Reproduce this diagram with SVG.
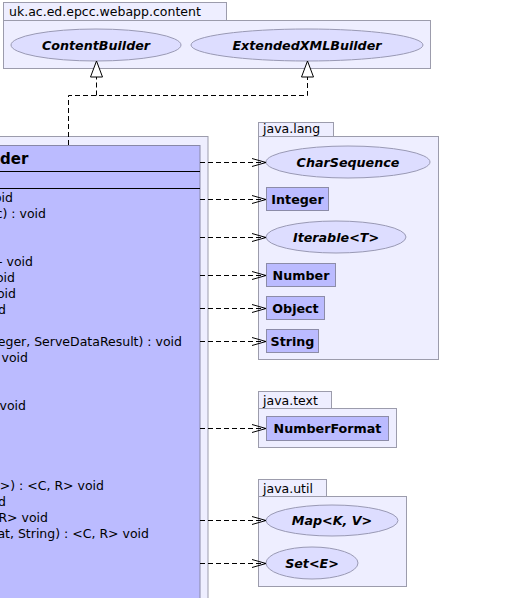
<svg xmlns="http://www.w3.org/2000/svg" width="511" height="598" viewBox="0 0 511 598">
<defs>
<style>
.pkg{fill:#eeeeff;stroke:#9c9cac;stroke-width:1}
.cls{fill:#bbbbff;stroke:#8888a8;stroke-width:1}
.box{fill:#bbbbff;stroke:#8c8ca8;stroke-width:1}
.ell{fill:#ddddff;stroke:#9999b4;stroke-width:1}
.lbl{font-family:"DejaVu Sans",sans-serif;font-size:12.5px;fill:#000}
.b{font-family:"DejaVu Sans",sans-serif;font-size:12.7px;font-weight:bold;fill:#000}
.bi{font-family:"DejaVu Sans",sans-serif;font-size:12.7px;font-weight:bold;font-style:italic;fill:#000}
.m{font-family:"DejaVu Sans",sans-serif;font-size:12.5px;fill:#000;text-anchor:end}
.dep{fill:none;stroke:#000;stroke-width:1;stroke-dasharray:5,3}
.line{fill:none;stroke:#000;stroke-width:1}
</style>
<marker id="open" markerWidth="16" markerHeight="10" refX="15" refY="5" orient="auto" markerUnits="userSpaceOnUse">
<path d="M1,1 L15,5 L1,9" fill="none" stroke="#000" stroke-width="1"/>
</marker>
</defs>
<rect width="511" height="598" fill="#ffffff"/>

<g id="pkg-content">
<rect class="pkg" x="3.5" y="2.5" width="223" height="18"/>
<rect class="pkg" x="3.5" y="20.5" width="427" height="48"/>
<text class="lbl" x="9" y="16">uk.ac.ed.epcc.webapp.content</text>
</g>
<g id="ContentBuilder">
<ellipse class="ell" cx="96" cy="45" rx="85" ry="16"/>
<text class="bi" x="96" y="49.5" text-anchor="middle">ContentBuilder</text>
</g>
<g id="ExtendedXMLBuilder">
<ellipse class="ell" cx="307" cy="45" rx="116" ry="16"/>
<text class="bi" x="307" y="49.5" text-anchor="middle">ExtendedXMLBuilder</text>
</g>

<g id="pkg-class">
<rect class="pkg" x="-10" y="136.5" width="218" height="480"/>
</g>
<g id="Builder">
<rect class="cls" x="-10" y="145.5" width="210" height="470"/>
<line class="line" x1="-10" y1="171.5" x2="200" y2="171.5"/>
<line class="line" x1="-10" y1="188.5" x2="200" y2="188.5"/>
<text x="0" y="164" style="font-family:'DejaVu Sans',sans-serif;font-size:15px;font-weight:bold">der</text>
<text class="m" x="13" y="202">oid</text>
<text class="m" x="46" y="218">c) : void</text>
<text class="m" x="33" y="266">- void</text>
<text class="m" x="15" y="282">oid</text>
<text class="m" x="16" y="298">oid</text>
<text class="m" x="6" y="314">d</text>
<text class="m" x="182" y="346">eger, ServeDataResult) : void</text>
<text class="m" x="28" y="362">void</text>
<text class="m" x="26" y="410">void</text>
<text class="m" x="104" y="490">R&gt;) : &lt;C, R&gt; void</text>
<text class="m" x="6" y="506">d</text>
<text class="m" x="48" y="522">R&gt; void</text>
<text class="m" x="149" y="538">at, String) : &lt;C, R&gt; void</text>
</g>

<g id="pkg-java-lang">
<rect class="pkg" x="258.5" y="122.5" width="75" height="14"/>
<rect class="pkg" x="258.5" y="136.5" width="180" height="223"/>
<text class="lbl" x="263" y="132.5">java.lang</text>
</g>
<g id="CharSequence">
<ellipse class="ell" cx="348" cy="162" rx="82" ry="16"/>
<text class="bi" x="348" y="166.5" text-anchor="middle">CharSequence</text>
</g>
<g id="Integer">
<rect class="box" x="266.5" y="187.5" width="62" height="23"/>
<text class="b" x="297.5" y="203.5" text-anchor="middle">Integer</text>
</g>
<g id="Iterable">
<ellipse class="ell" cx="336" cy="237" rx="70" ry="16"/>
<text class="bi" x="336" y="241.5" text-anchor="middle">Iterable&lt;T&gt;</text>
</g>
<g id="Number">
<rect class="box" x="266.5" y="263.5" width="69" height="23"/>
<text class="b" x="301" y="279.5" text-anchor="middle">Number</text>
</g>
<g id="Object">
<rect class="box" x="266.5" y="296.5" width="58" height="23"/>
<text class="b" x="295.5" y="312.5" text-anchor="middle">Object</text>
</g>
<g id="String">
<rect class="box" x="266.5" y="329.5" width="52" height="23"/>
<text class="b" x="292.5" y="345.5" text-anchor="middle">String</text>
</g>

<g id="pkg-java-text">
<rect class="pkg" x="258.5" y="391.5" width="73" height="17"/>
<rect class="pkg" x="258.5" y="408.5" width="138" height="39"/>
<text class="lbl" x="263" y="404.5">java.text</text>
</g>
<g id="NumberFormat">
<rect class="box" x="266.5" y="416.5" width="122" height="24"/>
<text class="b" x="327.5" y="433" text-anchor="middle">NumberFormat</text>
</g>

<g id="pkg-java-util">
<rect class="pkg" x="258.5" y="479.5" width="68" height="17"/>
<rect class="pkg" x="258.5" y="496.5" width="148" height="90"/>
<text class="lbl" x="263" y="492.5">java.util</text>
</g>
<g id="Map">
<ellipse class="ell" cx="332" cy="520.5" rx="66" ry="15.5"/>
<text class="bi" x="332" y="525" text-anchor="middle">Map&lt;K, V&gt;</text>
</g>
<g id="Set">
<ellipse class="ell" cx="312" cy="563" rx="46" ry="16"/>
<text class="bi" x="312" y="567.5" text-anchor="middle">Set&lt;E&gt;</text>
</g>

<g id="connectors">
<path class="dep" d="M68.5,145 L68.5,95.5 L307.5,95.5 L307.5,77"/>
<path class="dep" d="M96.5,95.5 L96.5,77"/>
<polygon points="96.5,61 90.5,77 102.5,77" fill="#ffffff" stroke="#000" stroke-width="1"/>
<polygon points="307.5,61 301.5,77 313.5,77" fill="#ffffff" stroke="#000" stroke-width="1"/>
<path class="dep" d="M200,162.5 L266,162.5" marker-end="url(#open)"/>
<path class="dep" d="M200,199.5 L266,199.5" marker-end="url(#open)"/>
<path class="dep" d="M200,237.5 L266,237.5" marker-end="url(#open)"/>
<path class="dep" d="M200,275.5 L266,275.5" marker-end="url(#open)"/>
<path class="dep" d="M200,308.5 L266,308.5" marker-end="url(#open)"/>
<path class="dep" d="M200,341.5 L266,341.5" marker-end="url(#open)"/>
<path class="dep" d="M200,428.5 L266,428.5" marker-end="url(#open)"/>
<path class="dep" d="M200,520.5 L266,520.5" marker-end="url(#open)"/>
<path class="dep" d="M200,563.5 L266,563.5" marker-end="url(#open)"/>
</g>
</svg>
